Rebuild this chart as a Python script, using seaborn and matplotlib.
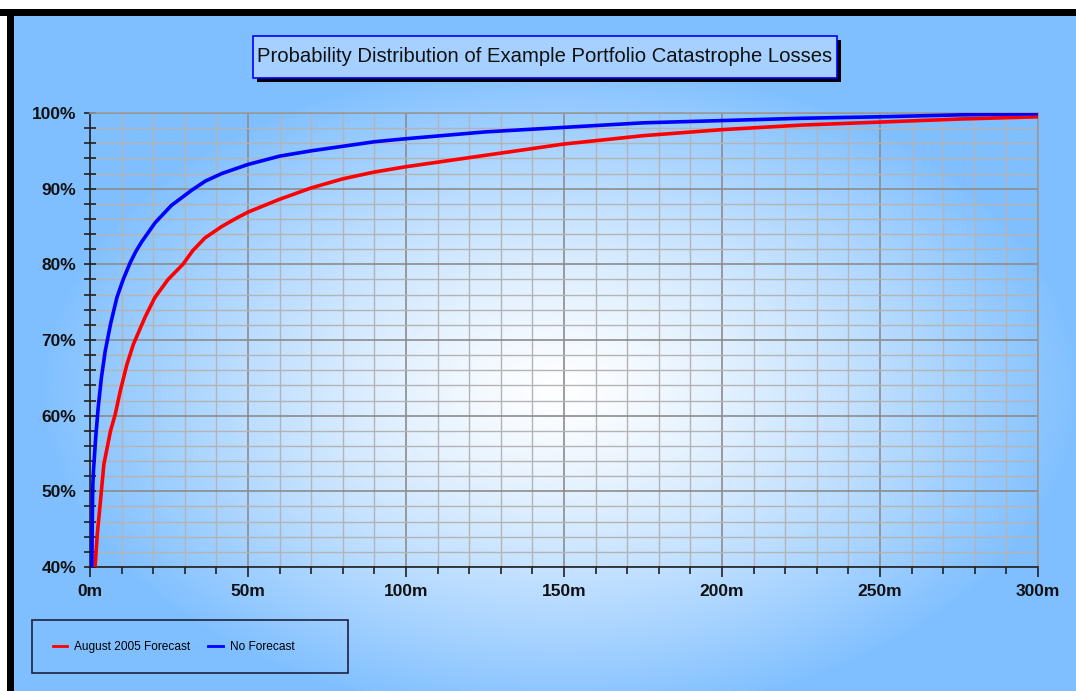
import numpy as np
import pandas as pd
import seaborn as sns
from matplotlib import pyplot as plt
from matplotlib.patches import Rectangle
from matplotlib.ticker import MultipleLocator, FuncFormatter

'''Cumulative loss distribution, two forecast scenarios.'''

# loss in millions, cumulative probability in percent
no_fc_loss = [0.6, 0.7, 0.9, 1.1, 1.8, 2.6, 3.6, 4.8, 6.5, 8.5, 10.5, 12.7, 14.5, 16.4,
              20.6, 25.8, 32.2, 36.5, 41.7, 50, 60, 70, 80, 90, 100, 125, 150, 175, 200,
              225, 250, 275, 300]
no_fc_prob = [40, 45.5, 50.9, 52.7, 57.1, 61.1, 65.0, 68.5, 72.1, 75.6, 78.0, 80.2, 81.7, 83.0,
              85.5, 87.8, 89.8, 91.0, 92.0, 93.2, 94.3, 95.0, 95.6, 96.2, 96.6, 97.5, 98.1, 98.7,
              99.0, 99.3, 99.5, 99.75, 99.9]

aug_loss = [1.6, 2.3, 3.3, 4.4, 6.5, 8.0, 9.6, 11.7, 13.7, 17.4, 20.5, 24.7, 29.4, 32.5,
            36.4, 41.7, 45.9, 50, 60, 70, 80, 90, 100, 125, 150, 175, 200, 225, 250, 275, 300]
aug_prob = [40, 44.3, 48.7, 53.6, 58.0, 60.2, 63.3, 66.8, 69.4, 73.0, 75.6, 78.0, 80.0, 81.8,
            83.5, 85.0, 86.0, 86.9, 88.6, 90.1, 91.3, 92.2, 92.9, 94.4, 95.9, 97.0, 97.8, 98.4,
            98.8, 99.2, 99.5]

series_names = ['August 2005 Forecast', 'No Forecast']

df = pd.concat([
    pd.DataFrame({'loss': aug_loss, 'prob': aug_prob, 'series': series_names[0]}),
    pd.DataFrame({'loss': no_fc_loss, 'prob': no_fc_prob, 'series': series_names[1]}),
])

W, H = 1076, 691
fig = plt.figure(figsize=(W / 100, H / 100), dpi=100)
fig.patch.set_facecolor('white')

# background: blue with a white radial glow
bg = fig.add_axes([0, 0, 1, 1], zorder=0)
bg.set_axis_off()
yy, xx = np.mgrid[0:H, 0:W]
r = np.sqrt(((xx - 560) / 520.0) ** 2 + ((yy - 390) / 330.0) ** 2)
t = np.clip(r, 0, 1) ** 1.3
blue = np.array([0.50, 0.75, 1.0])
white = np.array([1.0, 1.0, 1.0])
img = white[None, None, :] * (1 - t[..., None]) + blue[None, None, :] * t[..., None]
img[:9, :, :] = 1.0
img[9:16, :, :] = 0.0
img[9:, 7:14, :] = 0.0
img[16:, :7, :] = 1.0
bg.imshow(img, extent=[0, W, H, 0], aspect='auto', interpolation='bilinear')
bg.set_xlim(0, W)
bg.set_ylim(H, 0)

ax = fig.add_axes([90 / W, (H - 567) / H, (1038 - 90) / W, (567 - 113) / H], zorder=2)
ax.patch.set_alpha(0)

sns.lineplot(data=df, x='loss', y='prob', hue='series', palette=['#ff0000', '#0000ff'],
             linewidth=2.6, ax=ax, legend=True, zorder=5, solid_joinstyle='round')

ax.set_xlim(0, 300)
ax.set_ylim(40, 100)
ax.xaxis.set_major_locator(MultipleLocator(50))
ax.xaxis.set_minor_locator(MultipleLocator(10))
ax.yaxis.set_major_locator(MultipleLocator(10))
ax.yaxis.set_minor_locator(MultipleLocator(2))
ax.xaxis.set_major_formatter(FuncFormatter(lambda v, p: f'{int(v)}m'))
ax.yaxis.set_major_formatter(FuncFormatter(lambda v, p: f'{int(v)}%'))

ax.grid(which='major', color='#8c8c8c', linewidth=1.2, zorder=1)
ax.grid(which='minor', color='#b4b4b4', linewidth=1.0, zorder=1)
ax.set_axisbelow(True)
for s in ['top', 'right']:
    ax.spines[s].set_color('#9a9a9a')
    ax.spines[s].set_linewidth(1.2)
for s in ['left', 'bottom']:
    ax.spines[s].set_color('#202020')
    ax.spines[s].set_linewidth(1.2)

ax.tick_params(axis='y', which='both', direction='inout', length=8, width=1.2, color='#202020')
ax.tick_params(axis='x', which='major', direction='out', length=7, width=1.2, color='#202020')
ax.tick_params(axis='x', which='minor', direction='out', length=5, width=1.2, color='#202020')
ax.tick_params(axis='x', pad=5)
ax.tick_params(axis='y', pad=6)
for lab in ax.get_xticklabels() + ax.get_yticklabels():
    lab.set_fontfamily('Liberation Sans')
    lab.set_fontweight('bold')
    lab.set_fontsize(12.5)
    lab.set_color('#111111')
ax.set_xlabel('')
ax.set_ylabel('')

# title box with drop shadow
fig.patches.append(Rectangle((257 / W, (H - 82) / H), (837 - 253) / W, 42 / H,
                             transform=fig.transFigure, facecolor='black',
                             edgecolor='none', zorder=3))
fig.patches.append(Rectangle((253 / W, (H - 78) / H), (837 - 253) / W, 42 / H,
                             transform=fig.transFigure, facecolor='#a6d0ff',
                             edgecolor='#0000ff', linewidth=1.2, zorder=3))
fig.text(545 / W, (H - 57) / H, 'Probability Distribution of Example Portfolio Catastrophe Losses',
         ha='center', va='center', fontsize=14.6, family='Liberation Sans',
         color='#111111', zorder=4)

# legend box
fig.patches.append(Rectangle((32 / W, (H - 673) / H), (348 - 32) / W, 53 / H,
                             transform=fig.transFigure, facecolor='none',
                             edgecolor='#202040', linewidth=1.2, zorder=3))
handles, labels = ax.get_legend_handles_labels()
ax.legend(handles, labels, loc='center left', bbox_to_anchor=(48 / W, (H - 647) / H),
          bbox_transform=fig.transFigure, ncol=2, frameon=False,
          prop={'family': 'Liberation Sans', 'size': 8.6}, handlelength=1.2,
          handletextpad=0.6, columnspacing=1.5, borderaxespad=0)
for line in ax.get_legend().get_lines():
    line.set_linewidth(2)

plt.savefig('out.png', dpi=100, facecolor=fig.get_facecolor())
